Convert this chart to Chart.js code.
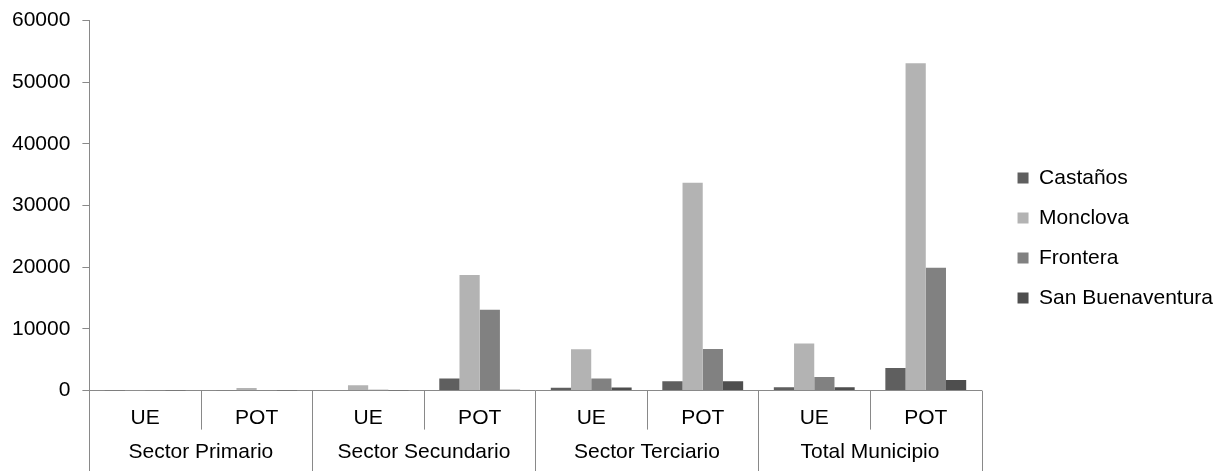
<!DOCTYPE html>
<html>
<head>
<meta charset="utf-8">
<script src="https://cdn.jsdelivr.net/npm/chart.js@4/dist/chart.umd.min.js"></script>
<style>
  html, body { margin: 0; padding: 0; background: #ffffff; }
  #wrap { width: 1221px; height: 471px; }
</style>
</head>
<body>
<div id="wrap"><canvas id="chart" width="1221" height="471"></canvas></div>
<script>
// Tipo de medición por sector (UE = unidades económicas, POT = personal ocupado total)
const categories = ['UE', 'POT', 'UE', 'POT', 'UE', 'POT', 'UE', 'POT'];
const sectors = ['Sector Primario', 'Sector Secundario', 'Sector Terciario', 'Total Municipio'];

const castanos        = [20, 60, 100, 1950, 450, 1500, 550, 3650];
const monclova        = [60, 440, 870, 18750, 6700, 33700, 7650, 53050];
const frontera        = [20, 40, 150, 13100, 1950, 6750, 2200, 19900];
const sanBuenaventura = [10, 30, 20, 150, 520, 1500, 540, 1730];

const yTicks = [0, 10000, 20000, 30000, 40000, 50000, 60000];

const axisGray = '#898989';
const font = { family: '"Liberation Sans", Arial, sans-serif', size: 21 };

// Vertical separators below the axis: short ones between UE/POT, long ones between sectors
const separators = {
  id: 'separators',
  afterDraw(chart) {
    const xs = chart.scales.x;
    const ctx = chart.ctx;
    const step = xs.getPixelForValue(1) - xs.getPixelForValue(0);
    const start = xs.getPixelForValue(0) - step / 2;
    ctx.save();
    ctx.strokeStyle = axisGray;
    ctx.lineWidth = 1;
    ctx.beginPath();
    for (let i = 0; i <= categories.length; i++) {
      const px = Math.round(start + i * step) + 0.5;
      const yEnd = (i % 2 === 0) ? chart.height : xs.top + 39;
      ctx.moveTo(px, xs.top);
      ctx.lineTo(px, yEnd);
    }
    ctx.stroke();
    ctx.restore();
  }
};

// Leave some room between the plot and the legend
const legendShift = {
  id: 'legendShift',
  afterLayout(chart) {
    const lg = chart.legend;
    if (!lg) return;
    lg.left += 17; lg.right += 17;
    lg.top += 4; lg.bottom += 4;
  }
};

new Chart(document.getElementById('chart'), {
  type: 'bar',
  data: {
    labels: categories,
    datasets: [
      { label: 'Castaños', data: castanos, backgroundColor: '#5f5f5f' },
      { label: 'Monclova', data: monclova, backgroundColor: '#b3b3b3' },
      { label: 'Frontera', data: frontera, backgroundColor: '#818181' },
      { label: 'San Buenaventura', data: sanBuenaventura, backgroundColor: '#4e4e4e' }
    ]
  },
  plugins: [separators, legendShift],
  options: {
    responsive: false,
    animation: false,
    layout: { padding: { top: 3, left: 0, right: 15, bottom: 6 } },
    datasets: { bar: { categoryPercentage: 0.725, barPercentage: 1.0 } },
    plugins: {
      legend: {
        position: 'right',
        align: 'center',
        labels: {
          boxWidth: 11, boxHeight: 11, padding: 19,
          color: '#000000', font: font
        }
      },
      tooltip: { enabled: false }
    },
    scales: {
      x: {
        type: 'category',
        position: 'bottom',
        offset: true,
        grid: { display: false, drawTicks: true, tickLength: 15 },
        border: { display: true, color: axisGray, width: 1 },
        ticks: { color: '#000000', font: font, padding: 0, maxRotation: 0, autoSkip: false }
      },
      x2: {
        type: 'category',
        position: 'bottom',
        labels: sectors,
        offset: true,
        grid: { display: false, drawTicks: true, tickLength: 9 },
        border: { display: false },
        ticks: { color: '#000000', font: font, padding: 0, maxRotation: 0, autoSkip: false }
      },
      y: {
        min: 0,
        max: 60000,
        afterBuildTicks: (scale) => { scale.ticks = yTicks.map(v => ({ value: v })); },
        grid: { drawOnChartArea: false, tickLength: 7, color: axisGray },
        border: { color: axisGray, width: 1 },
        ticks: {
          color: '#000000',
          font: { family: font.family, size: 21, lineHeight: 0.8 },
          padding: 12,
          callback: (v) => String(v)
        }
      }
    }
  }
});
</script>
</body>
</html>
